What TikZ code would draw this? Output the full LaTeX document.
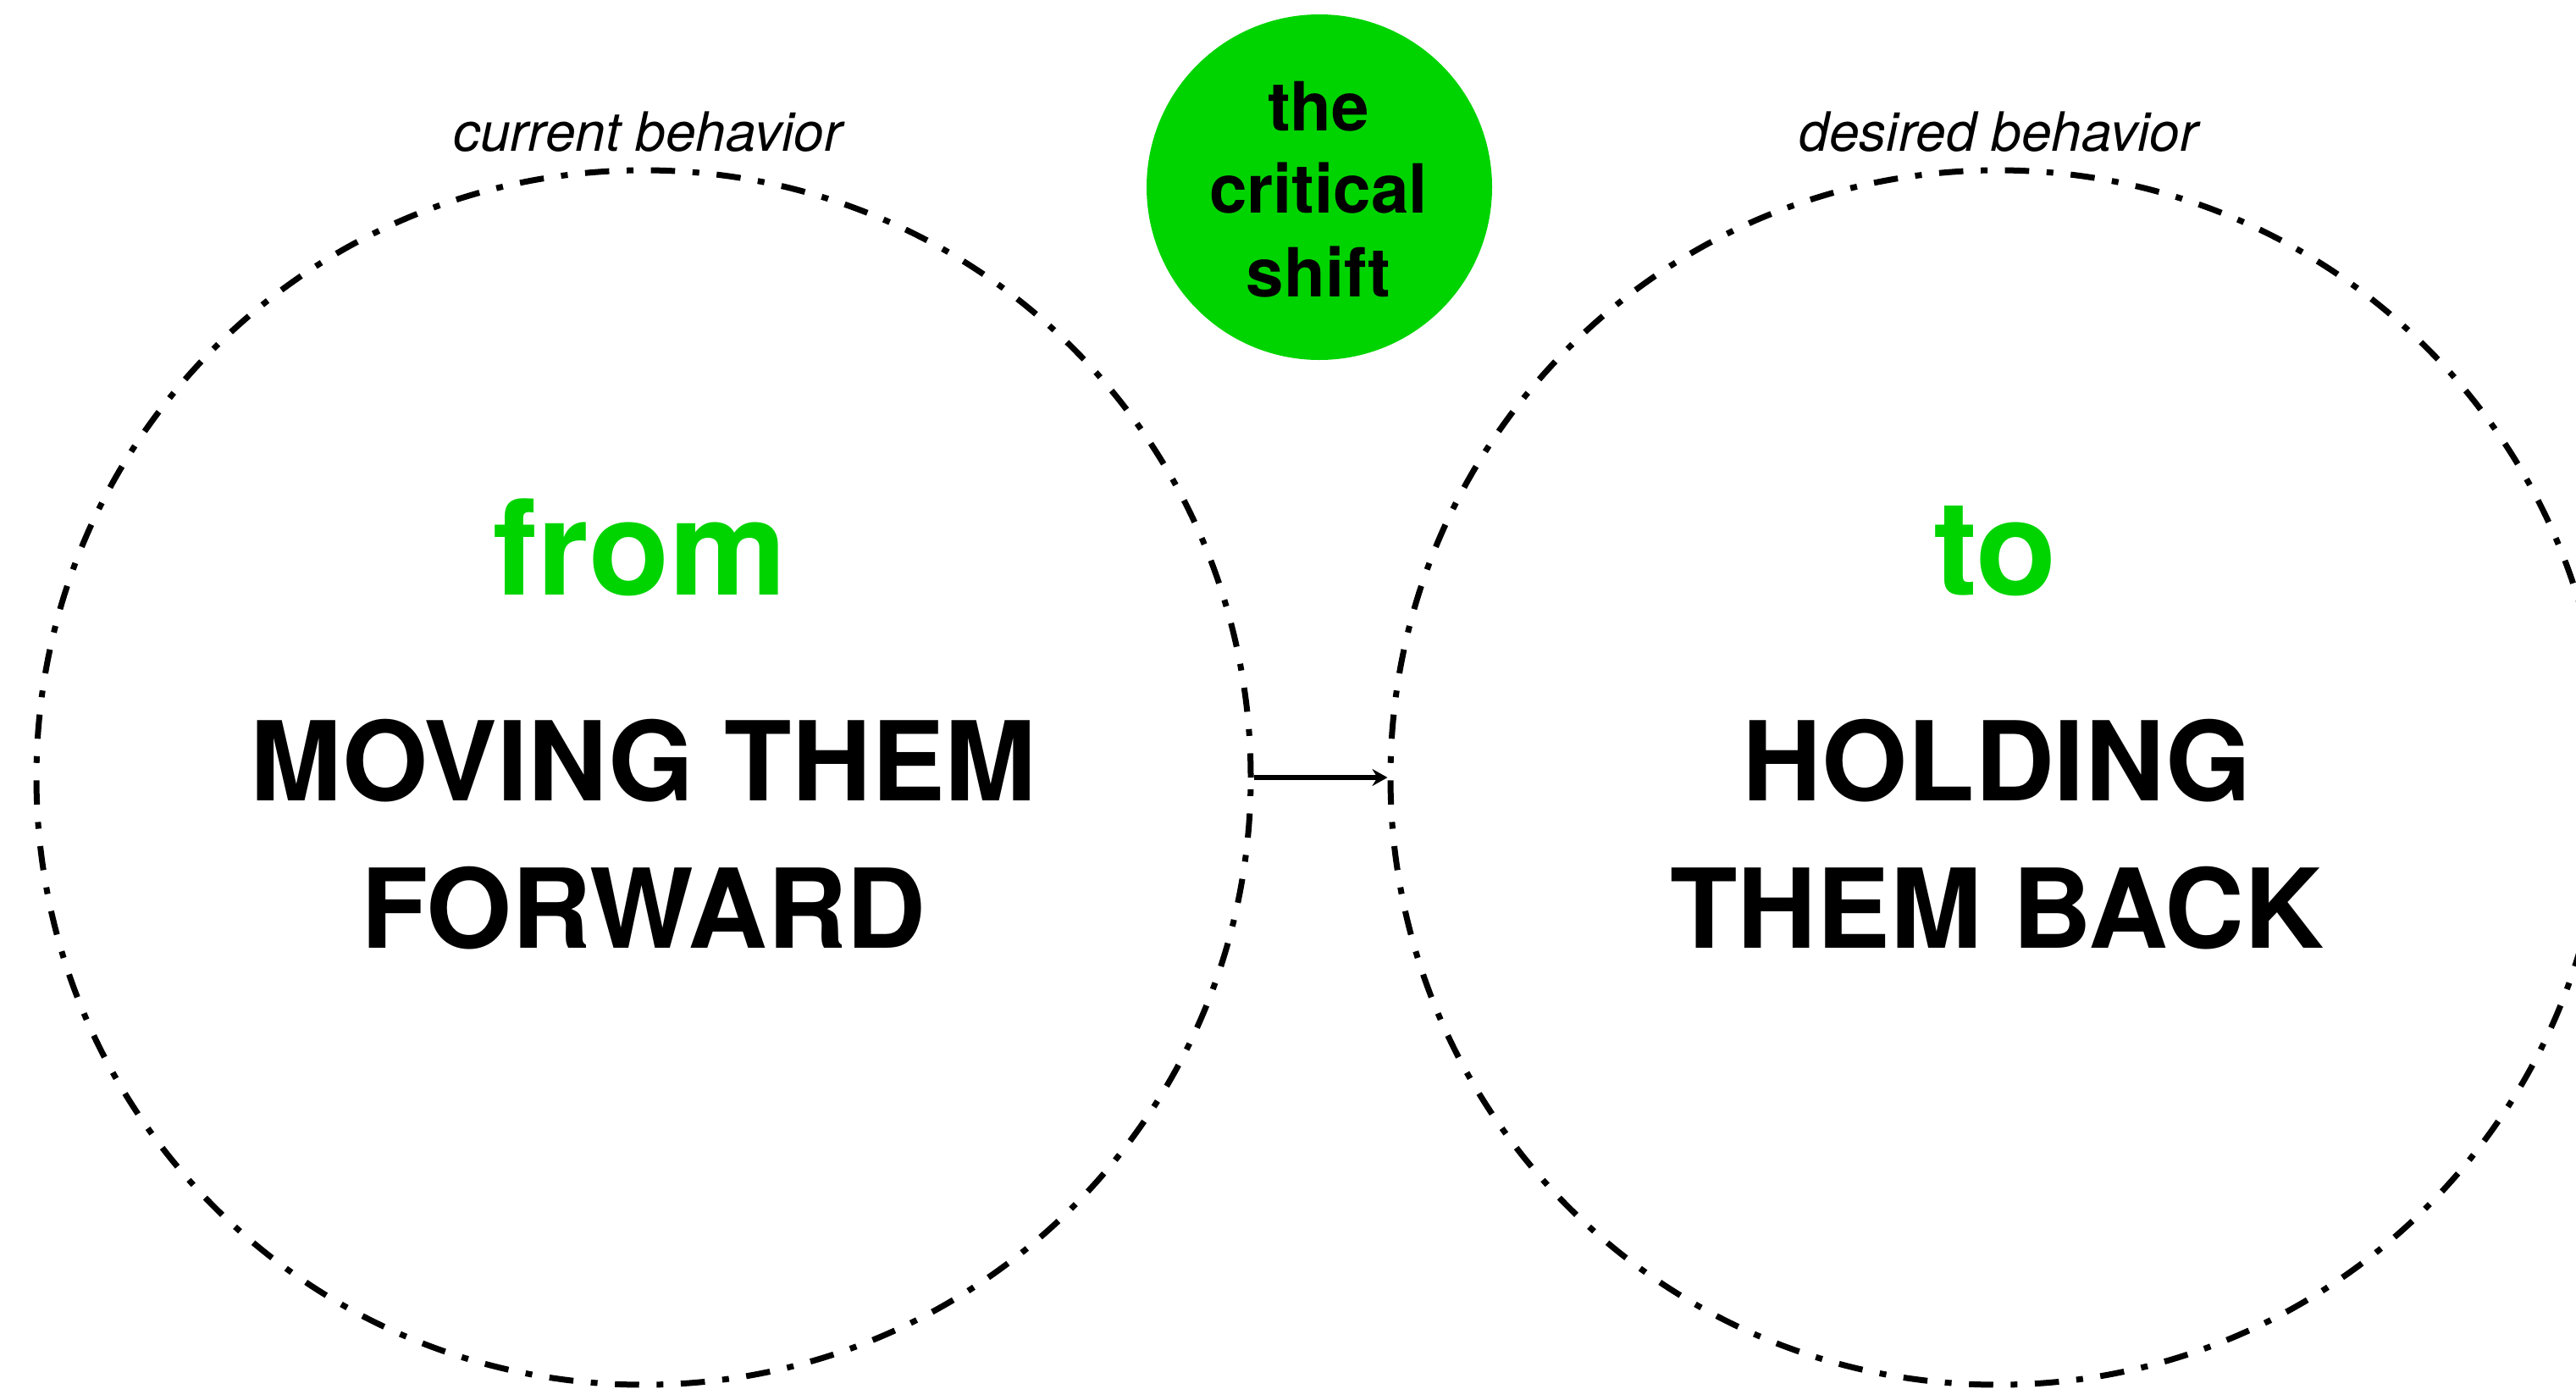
\documentclass[tikz,border=0pt]{standalone}
\usepackage{fontspec}
\setmainfont{TeX Gyre Heros}
\usetikzlibrary{arrows.meta}
\definecolor{shiftgreen}{RGB}{0,212,0}
\tikzset{
  bigring/.style={circle, draw=black, line width=3.5pt, minimum size=717pt, inner sep=0pt,
    dash pattern=on 14.3pt off 10.3pt on 4pt off 10.3pt},
  biglabel/.style={anchor=base, font=\fontsize{65}{78}\selectfont\bfseries, text=black, inner sep=0pt},
  greenword/.style={anchor=base, font=\fontsize{78}{90}\selectfont\bfseries, text=shiftgreen, inner sep=0pt},
  shiftword/.style={anchor=base, font=\fontsize{40}{48}\selectfont\bfseries, text=black, inner sep=0pt},
  caption/.style={anchor=base, font=\fontsize{32}{38}\selectfont\itshape, text=black, inner sep=0pt},
  shiftarrow/.style={line width=2.6pt, -{Stealth[length=9pt,width=10pt,inset=3pt]}}
}
\begin{document}
\begin{tikzpicture}
\useasboundingbox[fill=white] (0pt,0pt) rectangle (1521pt,-819.5pt);
% big dashed circles
\node[bigring] (L) at (380pt,-459pt) {};
\node[bigring] (R) at (1179.5pt,-459pt) {};
% green circle
\node[circle, fill=shiftgreen, minimum size=204pt, inner sep=0pt] (G) at (779pt,-110.5pt) {};
\node[shiftword] (g1) at (778.5pt,-77pt) {the};
\node[shiftword] (g2) at (778.5pt,-125.5pt) {critical};
\node[shiftword] (g3) at (778.5pt,-175pt) {shift};
% captions
\node[caption] (cl) at (382.5pt,-89pt) {current behavior};
\node[caption] (cr) at (1180pt,-89pt) {desired behavior};
% left texts
\node[greenword] (from) at (378pt,-351pt) {from};
\node[biglabel] (l1) at (380pt,-472.5pt) {MOVING THEM};
\node[biglabel] (l2) at (380pt,-559.5pt) {FORWARD};
% right texts
\node[greenword] (to) at (1178pt,-351pt) {to};
\node[biglabel] (r1) at (1179pt,-472.5pt) {HOLDING};
\node[biglabel] (r2) at (1179pt,-559.5pt) {THEM BACK};
% arrow
\draw[shiftarrow] (L.east) -- (R.west);
\end{tikzpicture}
\end{document}
